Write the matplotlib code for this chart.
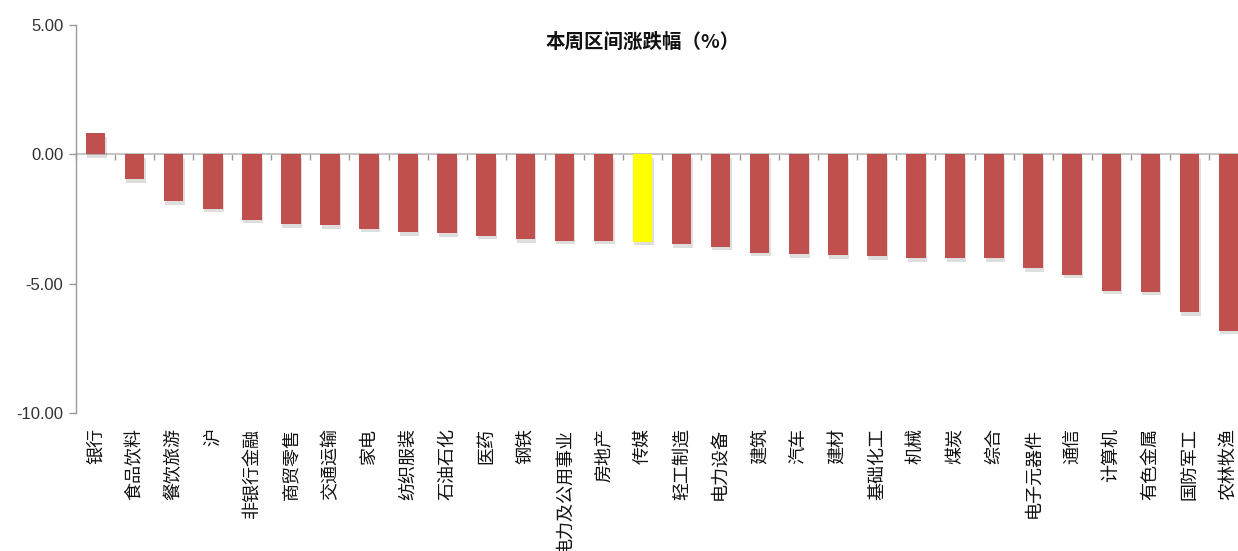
import matplotlib
matplotlib.use('Agg')
import matplotlib.pyplot as plt
import matplotlib.patheffects as pe
import numpy as np

plt.rcParams['font.family'] = ['Noto Sans CJK SC', 'DejaVu Sans']

# 本周区间涨跌幅 (%)
industries = ['银行', '食品饮料', '餐饮旅游', '沪', '非银行金融', '商贸零售', '交通运输',
              '家电', '纺织服装', '石油石化', '医药', '钢铁', '电力及公用事业', '房地产',
              '传媒', '轻工制造', '电力设备', '建筑', '汽车', '建材', '基础化工', '机械',
              '煤炭', '综合', '电子元器件', '通信', '计算机', '有色金属', '国防军工', '农林牧渔']
changes = [0.82, -0.97, -1.82, -2.10, -2.53, -2.70, -2.75,
           -2.87, -3.01, -3.05, -3.14, -3.29, -3.35, -3.35,
           -3.39, -3.48, -3.57, -3.81, -3.86, -3.90, -3.94, -4.02,
           -4.02, -4.02, -4.40, -4.66, -5.27, -5.31, -6.11, -6.83]
highlight = '传媒'
y_ticks = [5, 0, -5, -10]

W, H = 1238, 551
fig = plt.figure(figsize=(W / 100, H / 100), dpi=100)
ax = fig.add_axes([76 / W, 1 - 413 / H, 1172 / W, 388 / H])

x = np.arange(len(industries))
colors = ['#FFFF00' if name == highlight else '#C0504D' for name in industries]
bars = ax.bar(x, changes, width=0.5, color=colors, zorder=3)
for b in bars:
    b.set_path_effects([pe.SimplePatchShadow(offset=(1, -2.5), alpha=0.13, shadow_rgbFace='#000000'),
                        pe.Normal()])

ax.set_xlim(-0.5, len(industries) - 0.5)
ax.set_ylim(-10, 5)
ax.set_yticks(y_ticks)
ax.set_yticklabels(['%.2f' % v for v in y_ticks], fontsize=12, color='#333333',
                   family=['Liberation Sans', 'DejaVu Sans'])
ax.tick_params(axis='y', direction='out', length=5, width=1, color='#999999', pad=4)

ax.set_xticks(x)
ax.set_xticklabels(industries, rotation=90, fontsize=13, color='#111111')
ax.tick_params(axis='x', length=0, pad=11)

for s in ['top', 'right', 'bottom']:
    ax.spines[s].set_visible(False)
ax.spines['left'].set_color('#999999')
ax.spines['left'].set_linewidth(1)

# zero line with category separators
zero_ax = ax.secondary_xaxis(2 / 3)
zero_ax.set_alignment('bottom')
zero_ax.set_xticks(np.arange(len(industries) + 1) - 0.5)
zero_ax.set_xticklabels([])
zero_ax.tick_params(direction='out', length=4, width=1, color='#999999')
for s in zero_ax.spines.values():
    s.set_color('#BBBBBB')
    s.set_linewidth(1.2)

fig.text(643 / W, 1 - 42 / H, '本周区间涨跌幅（%）', ha='center', va='center',
         fontsize=14, fontweight='bold', color='#111111')

fig.savefig('out.png', dpi=100)
